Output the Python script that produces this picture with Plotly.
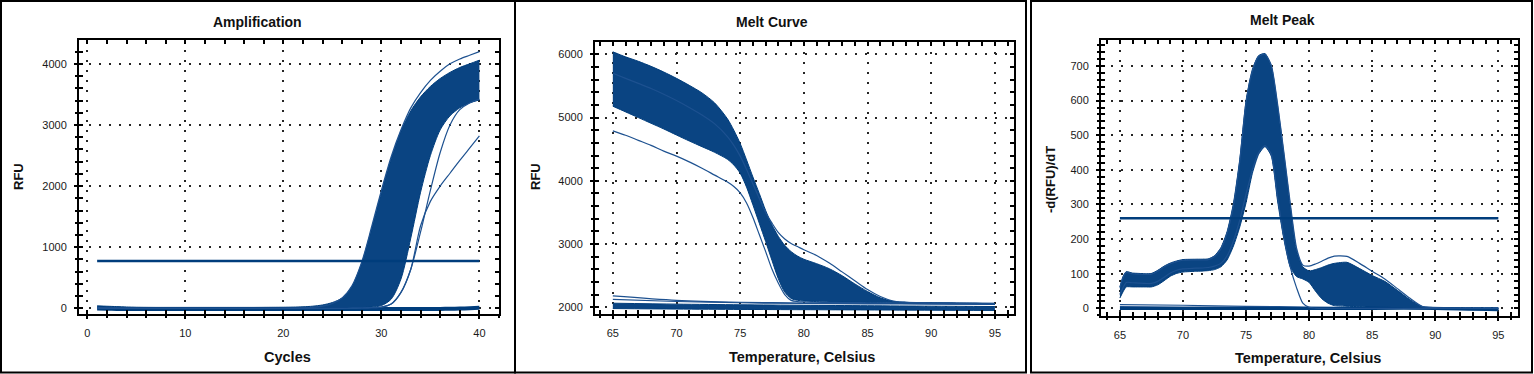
import plotly.graph_objects as go

# ---------------- DATA ----------------
# Amplification (RFU vs cycle)
amp_cycles = list(range(1, 41))
amp_band_hi = [40, 34, 28, 22, 18, 16, 15, 15, 15, 15,
               15, 15, 15, 15, 15, 15, 15, 16, 17, 18,
               20, 25, 35, 55, 95, 170, 360, 745, 1300, 1900,
               2450, 2900, 3230, 3460, 3630, 3760, 3860, 3940, 4000, 4060]
amp_band_lo = [0, 0, 0, 0, 0, 0, 0, 0, 0, 0,
               0, 0, 0, 0, 0, 0, 0, 0, 0, 0,
               0, 0, 0, 0, 0, 0, 5, 10, 20, 45,
               150, 480, 1150, 1900, 2500, 2920, 3150, 3280, 3360, 3410]
amp_neg = [-5, -8, -10, -10, -10, -10, -10, -10, -10, -10,
           -10, -10, -10, -10, -10, -10, -10, -10, -10, -10,
           -10, -10, -10, -10, -10, -10, -10, -10, -10, -10,
           -10, -10, -10, -10, -10, -10, -8, -5, 0, 8]
amp_top = [10, 8, 6, 4, 2, 0, 0, 0, 0, 0,
           0, 0, 0, 0, 0, 0, 0, 0, 0, 2,
           4, 8, 16, 36, 80, 170, 370, 760, 1330, 1930,
           2480, 2920, 3280, 3530, 3730, 3880, 4000, 4080, 4140, 4200]
amp_late_c = [0, 0, 0, 0, 0, 0, 0, 0, 0, 0,
              0, 0, 0, 0, 0, 0, 0, 0, 0, 0,
              0, 0, 0, 0, 0, 0, 2, 5, 10, 20,
              70, 260, 640, 1250, 1930, 2550, 3000, 3250, 3360, 3420]
amp_late_b = [0, 0, 0, 0, 0, 0, 0, 0, 0, 0,
              0, 0, 0, 0, 0, 0, 0, 0, 0, 0,
              0, 0, 0, 0, 0, 0, 2, 5, 10, 20,
              70, 260, 640, 1350, 1750, 2000, 2210, 2420, 2620, 2820]
amp_threshold = 775
amp_threshold_span = [1, 40]

# Melt curve (RFU vs temperature)
mc_T = [65, 66, 67, 68, 69, 70, 71, 72, 73, 74,
        74.5, 75, 75.5, 76, 76.5, 77, 77.5, 78, 78.5, 79, 79.5, 80,
        81, 82, 83, 84, 85, 86, 87, 88, 89, 90, 91, 92, 93, 94, 95]
mc_band_hi = [6040, 5960, 5890, 5810, 5720, 5620, 5510, 5390, 5230, 4980,
              4800, 4590, 4330, 4060, 3800, 3530, 3300, 3120, 2980, 2880, 2810, 2760,
              2690, 2610, 2500, 2370, 2250, 2150, 2095, 2080, 2075, 2072, 2070, 2068, 2066, 2064, 2062]
mc_band_lo = [5180, 5090, 5000, 4910, 4820, 4724, 4630, 4540, 4450, 4340,
              4250, 4120, 3900, 3620, 3330, 3040, 2740, 2450, 2240, 2140, 2110, 2100,
              2090, 2085, 2080, 2078, 2076, 2074, 2072, 2070, 2068, 2066, 2064, 2062, 2060, 2058, 2056]
mc_low_out = [4790, 4720, 4640, 4560, 4470, 4390, 4300, 4200, 4090, 3980,
              3910, 3810, 3650, 3420, 3150, 2880, 2600, 2380, 2200, 2110, 2090, 2085,
              2080, 2078, 2076, 2074, 2072, 2070, 2068, 2066, 2064, 2062, 2060, 2058, 2056, 2054, 2052]
mc_high_out = [5700, 5620, 5540, 5460, 5370, 5270, 5160, 5040, 4900, 4700,
               4560, 4390, 4180, 3950, 3720, 3500, 3330, 3180, 3080, 3010, 2960, 2910,
               2820, 2700, 2560, 2420, 2280, 2170, 2100, 2080, 2075, 2072, 2070, 2068, 2066, 2064, 2062]
mc_flat_T = [65, 70, 75, 80, 85, 90, 95]
mc_flat1 = [2180, 2110, 2080, 2068, 2062, 2058, 2055]
mc_flat2 = [2125, 2092, 2072, 2060, 2055, 2050, 2046]
mc_flat_hi = [2065, 2050, 2040, 2032, 2025, 2018, 2012]
mc_flat_lo = [1980, 1972, 1966, 1962, 1958, 1954, 1950]

# Melt peak (-d(RFU)/dT vs temperature)
mp_T = [65, 65.25, 65.5, 66, 66.5, 67, 67.5, 68, 68.5, 69, 69.5, 70,
        71, 72, 72.5, 73, 73.5, 74, 74.5, 75, 75.5, 76, 76.5, 77, 77.5, 78, 78.5,
        79, 79.5, 80, 80.5, 81, 81.5, 82, 83, 84, 85, 86, 87, 88, 89, 90, 92, 95]
mp_band_hi = [62, 92, 106, 102, 101, 100, 101, 110, 122, 131, 137, 141,
              142, 143, 152, 175, 222, 303, 430, 600, 690, 730, 736, 700, 585, 445, 298,
              168, 120, 108, 112, 118, 125, 130, 133, 115, 95, 78, 52, 25, 5, 3, 2, 2]
mp_band_lo = [30, 48, 62, 62, 62, 62, 62, 68, 80, 93, 101, 105,
              107, 109, 112, 120, 140, 180, 235, 305, 390, 445, 467, 440, 310, 200, 120,
              92, 85, 75, 50, 28, 15, 8, 6, 5, 4, 3, 2, 1, 0, 0, 0, 0]
mp_nohump = [40, 60, 75, 74, 73, 72, 72, 78, 90, 102, 110, 114,
             116, 118, 122, 130, 152, 195, 255, 330, 400, 450, 470, 445, 320, 205, 120,
             60, 15, 3, 1, 0, 0, 0, 0, 0, 0, 0, 0, 0, 0, 0, 0, 0]
mp_hump_top = [60, 90, 104, 100, 99, 98, 99, 108, 120, 129, 135, 139,
               140, 141, 150, 172, 218, 298, 425, 595, 685, 728, 734, 702, 590, 450, 305,
               175, 125, 122, 128, 136, 145, 151, 150, 130, 107, 85, 57, 29, 5, 2, 1, 0]
mp_base_T = [65, 70, 75, 80, 85, 90, 95]
mp_base1 = [11, 9, 6, 4, 2, 0, -2]
mp_base2 = [5, 4, 3, 2, 1, 0, -3]
mp_base3 = [0, 0, 0, 0, 0, 0, -4]
mp_threshold = 260
mp_threshold_span = [65, 95]

# ---------------- STYLE ----------------
W, H = 1534, 374
NAVY = "#003d7c"
FILL = "#0a4482"
THIN = "#1d5190"
FONT = "Liberation Sans, Arial, sans-serif"

fig = go.Figure()


def add_band(xs, lo, hi, xa, ya, smooth=0.8):
    fig.add_trace(go.Scatter(x=xs, y=lo, mode="lines", xaxis=xa, yaxis=ya,
                             line=dict(color=NAVY, width=1, shape="spline", smoothing=smooth),
                             hoverinfo="skip", showlegend=False))
    fig.add_trace(go.Scatter(x=xs, y=hi, mode="lines", xaxis=xa, yaxis=ya, fill="tonexty",
                             fillcolor=FILL,
                             line=dict(color=NAVY, width=1, shape="spline", smoothing=smooth),
                             hoverinfo="skip", showlegend=False))


def add_line(xs, ys, xa, ya, width=1.2, color=THIN, smooth=0.8):
    fig.add_trace(go.Scatter(x=xs, y=ys, mode="lines", xaxis=xa, yaxis=ya,
                             line=dict(color=color, width=width, shape="spline", smoothing=smooth),
                             hoverinfo="skip", showlegend=False))


# Panel 1: Amplification
add_band(amp_cycles, amp_band_lo, amp_band_hi, "x", "y")
add_line(amp_cycles, amp_neg, "x", "y", width=4, color=NAVY)
add_line(amp_cycles, amp_top, "x", "y")
add_line(amp_cycles, amp_late_c, "x", "y")
add_line(amp_cycles, amp_late_b, "x", "y")
add_line(amp_threshold_span, [amp_threshold] * 2, "x", "y", width=2.5, color=NAVY)

# Panel 2: Melt curve
add_band(mc_flat_T, mc_flat_lo, mc_flat_hi, "x2", "y2")
add_line(mc_flat_T, mc_flat1, "x2", "y2")
add_line(mc_flat_T, mc_flat2, "x2", "y2")
add_band(mc_T, mc_band_lo, mc_band_hi, "x2", "y2")
add_line(mc_T, mc_low_out, "x2", "y2")
add_line(mc_T, mc_high_out, "x2", "y2")

# Panel 3: Melt peak
add_line(mp_base_T, mp_base1, "x3", "y3")
add_line(mp_base_T, mp_base2, "x3", "y3")
add_line(mp_base_T, mp_base3, "x3", "y3", width=3, color=NAVY)
add_band(mp_T, mp_band_lo, mp_band_hi, "x3", "y3", smooth=0.6)
add_line(mp_T, mp_nohump, "x3", "y3", smooth=0.6)
add_line(mp_T, mp_hump_top, "x3", "y3", smooth=0.6)
add_line(mp_threshold_span, [mp_threshold] * 2, "x3", "y3", width=2.5, color=NAVY)


def px_x(p):
    return p / W


def px_y(p):
    return 1 - p / H


panels = [
    dict(box=(79, 499, 40, 314), xr=[-0.85, 42.0], yr=[-93, 4390], xd=10, xm=2, yd=1000, ym=200),
    dict(box=(595, 1014, 42, 314), xr=[63.6, 96.5], yr=[1894, 6195], xd=5, xm=1, yd=1000, ym=200),
    dict(box=(1101, 1518, 40, 316), xr=[63.5, 96.56], yr=[-22, 775], xd=5, xm=1, yd=100, ym=20),
]

tickfont = dict(family=FONT, size=11, color="#1a1a1a")
layout = {}
for i, p in enumerate(panels):
    l, r, t, b = p["box"]
    sx = "" if i == 0 else str(i + 1)
    xdom = [px_x(l), px_x(r)]
    ydom = [px_y(b), px_y(t)]
    common = dict(showline=True, linecolor="black", linewidth=2, mirror="allticks",
                  ticks="inside", ticklen=4, tickwidth=1.5, tickcolor="black",
                  showgrid=True, gridcolor="#262626", gridwidth=1.6, griddash="2px,8px",
                  zeroline=False, tickfont=tickfont, fixedrange=True)
    layout["xaxis" + sx] = dict(common, domain=xdom, range=p["xr"], dtick=p["xd"], tick0=0,
                                anchor="y" + sx, ticklabelstandoff=8,
                                minor=dict(dtick=p["xm"], ticks="inside", ticklen=3, tickwidth=1.5,
                                           tickcolor="black", showgrid=False))
    layout["yaxis" + sx] = dict(common, domain=ydom, range=p["yr"], dtick=p["yd"], tick0=0,
                                anchor="x" + sx, ticklabelstandoff=8,
                                minor=dict(dtick=p["ym"], ticks="inside", ticklen=3, tickwidth=1.5,
                                           tickcolor="black", showgrid=False))
    ox = str(i + 4)
    layout["xaxis" + ox] = dict(overlaying="x" + sx, anchor="y" + sx, side="bottom", range=p["xr"],
                                dtick=p["xd"], tick0=0, ticks="outside", ticklen=4, tickwidth=1.5,
                                tickcolor="black", showticklabels=False, showline=False,
                                showgrid=False, zeroline=False, fixedrange=True,
                                minor=dict(dtick=p["xm"], ticks="outside", ticklen=3, tickwidth=1.5,
                                           tickcolor="black", showgrid=False))
    layout["yaxis" + ox] = dict(overlaying="y" + sx, anchor="x" + sx, side="left", range=p["yr"],
                                dtick=p["yd"], tick0=0, ticks="outside", ticklen=4, tickwidth=1.5,
                                tickcolor="black", showticklabels=False, showline=False,
                                showgrid=False, zeroline=False, fixedrange=True,
                                minor=dict(dtick=p["ym"], ticks="outside", ticklen=3, tickwidth=1.5,
                                           tickcolor="black", showgrid=False))
    fig.add_trace(go.Scatter(x=[None], y=[None], xaxis="x" + ox, yaxis="y" + sx,
                             showlegend=False, hoverinfo="skip"))
    fig.add_trace(go.Scatter(x=[None], y=[None], xaxis="x" + sx, yaxis="y" + ox,
                             showlegend=False, hoverinfo="skip"))

titles = [("Amplification", 257, 22), ("Melt Curve", 772, 22), ("Melt Peak", 1282, 20)]
xtitles = [("Cycles", 287, 357), ("Temperature, Celsius", 802, 357), ("Temperature, Celsius", 1308, 358)]
ytitles = [("RFU", 18, 177), ("RFU", 535, 177), ("-d(RFU)/dT", 1051, 180)]

annotations = []
for txt, x, y in titles:
    annotations.append(dict(text=txt, x=px_x(x), y=px_y(y), xref="paper", yref="paper",
                            showarrow=False, xanchor="center", yanchor="middle",
                            font=dict(family=FONT, size=14, color="#111", weight="bold")))
for txt, x, y in xtitles:
    annotations.append(dict(text=txt, x=px_x(x), y=px_y(y), xref="paper", yref="paper",
                            showarrow=False, xanchor="center", yanchor="middle",
                            font=dict(family=FONT, size=14.5, color="#111", weight="bold")))
for txt, x, y in ytitles:
    annotations.append(dict(text=txt, x=px_x(x), y=px_y(y), xref="paper", yref="paper",
                            showarrow=False, xanchor="center", yanchor="middle", textangle=-90,
                            font=dict(family=FONT, size=13, color="#111", weight="bold")))

boxes = [(1, 515), (515, 1026), (1031, 1532)]
shapes = []
for x0, x1 in boxes:
    shapes.append(dict(type="rect", xref="paper", yref="paper",
                       x0=px_x(x0), x1=px_x(x1), y0=px_y(372.5), y1=px_y(1),
                       line=dict(color="black", width=2), fillcolor="rgba(0,0,0,0)", layer="above"))

fig.update_layout(width=W, height=H, margin=dict(l=0, r=0, t=0, b=0),
                  paper_bgcolor="white", plot_bgcolor="white", showlegend=False,
                  annotations=annotations, shapes=shapes, **layout)

fig.write_html("out.html", config={"displayModeBar": False},
               post_script="document.body.style.margin='0px';document.body.style.padding='0px';"
                           "document.body.style.overflow='hidden';")
